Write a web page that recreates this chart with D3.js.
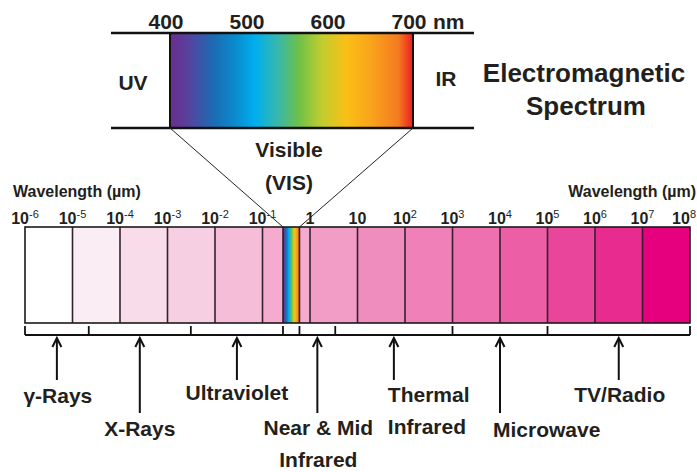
<!DOCTYPE html>
<html>
<head>
<meta charset="utf-8">
<script src="https://cdn.jsdelivr.net/npm/d3@7"></script>
<style>
  body { margin: 0; background: #fff; }
  text { font-family: "Liberation Sans", Arial, sans-serif; font-weight: bold; fill: #231f20; }
</style>
</head>
<body>
<script>
// ---- data ----
var exponents = [-6, -5, -4, -3, -2, -1, 0, 1, 2, 3, 4, 5, 6, 7, 8];   // decade ticks (µm)
var cellColors = ["#ffffff", "#fbedf4", "#f9dcea", "#f7cfe2", "#f5bdd7", "#f4abcd", "#f29dc6",
                  "#f08dbf", "#ef80b8", "#ee70ae", "#ec5fa6", "#e9459b", "#e72b8f", "#e6007e"];
var visibleBand = [0.27, 0.6];                                   // µm, as drawn (schematic)
var regionEdges = [1e-6, 2.2e-5, 3.1e-3, 0.27, 0.6, 3.4, 1e3, 1e5, 1e8];
var regionNames = ["γ-Rays", "X-Rays", "Ultraviolet", "", "Near & Mid|Infrared",
                   "Thermal|Infrared", "Microwave", "TV/Radio"];
var nmTicks = [400, 500, 600, 700];
var spectrumNm = [400, 420, 455, 478, 505, 535, 558, 588, 618, 648, 682, 700];
var spectrumCol = ["#6a2d8f", "#5a3f9b", "#1a6db4", "#0b88ca", "#00aeef", "#3cb8a6", "#6cc04a",
                   "#c2cd2e", "#fbbf16", "#f9a41b", "#f47b20", "#ed1c24"];

// ---- layout ----
var W = 697, H = 472;
var barTop = 227, barBottom = 323;
var boxTop = 33, boxBottom = 128;
var bracketY = 335;

var svg = d3.select("body").append("svg")
    .attr("width", W)
    .attr("height", H);

var defs = svg.append("defs");

function addGradient(id, firstColor) {
  var g = defs.append("linearGradient").attr("id", id)
      .attr("x1", "0%").attr("x2", "100%").attr("y1", "0%").attr("y2", "0%");
  spectrumNm.forEach(function(nm, i) {
    g.append("stop")
      .attr("offset", ((nm - 400) / 300 * 100) + "%")
      .attr("stop-color", (i == 0 && firstColor) ? firstColor : spectrumCol[i]);
  });
}
addGradient("spec");
addGradient("specSmall", "#2b2468");

// log scale for the main bar
var x = d3.scaleLog().domain([1e-6, 1e8]).range([25, 690]);
// linear scale for the visible inset
var xn = d3.scaleLinear().domain([400, 700]).range([170, 413]);

// ---- main bar cells ----
var cells = d3.range(exponents.length - 1).map(function(i) {
  return { a: Math.pow(10, exponents[i]), b: Math.pow(10, exponents[i + 1]), c: cellColors[i] };
});

svg.selectAll(".cell")
  .data(cells)
  .enter().append("rect")
    .attr("class", "cell")
    .attr("x", function(d) { return x(d.a); })
    .attr("y", barTop)
    .attr("width", function(d) { return x(d.b) - x(d.a); })
    .attr("height", barBottom - barTop)
    .style("fill", function(d) { return d.c; });

// visible band
svg.append("rect")
    .attr("x", x(visibleBand[0]))
    .attr("y", barTop)
    .attr("width", x(visibleBand[1]) - x(visibleBand[0]))
    .attr("height", barBottom - barTop)
    .style("fill", "url(#specSmall)");

// dividers
var dividerVals = exponents.slice(1, -1).map(function(e) { return Math.pow(10, e); }).concat(visibleBand);
svg.selectAll(".div")
  .data(dividerVals)
  .enter().append("line")
    .attr("class", "div")
    .attr("x1", function(d) { return x(d); })
    .attr("x2", function(d) { return x(d); })
    .attr("y1", barTop)
    .attr("y2", barBottom)
    .style("stroke", "#33222e")
    .style("stroke-width", 1.6);

svg.append("rect")
    .attr("x", x(1e-6))
    .attr("y", barTop)
    .attr("width", x(1e8) - x(1e-6))
    .attr("height", barBottom - barTop)
    .style("fill", "none")
    .style("stroke", "#1a1a1a")
    .style("stroke-width", 1.6);

// decade tick labels 10^n (last one kept inside the frame)
var lastExp = exponents[exponents.length - 1];
var tl = svg.selectAll(".tl")
  .data(exponents)
  .enter().append("text")
    .attr("class", "tl")
    .attr("x", function(d) { return d == lastExp ? W - 1 : x(Math.pow(10, d)); })
    .attr("y", 224)
    .attr("text-anchor", function(d) { return d == lastExp ? "end" : "middle"; })
    .style("font-size", "16px");
tl.each(function(d) {
  var t = d3.select(this);
  if (d == 0) { t.text("1"); return; }
  if (d == 1) { t.text("10"); return; }
  t.append("tspan").text("10");
  t.append("tspan").attr("dy", -6).style("font-size", "11px").style("font-weight", "normal").text(d);
});

svg.append("text").attr("x", 13).attr("y", 197).style("font-size", "16px").text("Wavelength (µm)");
svg.append("text").attr("x", W - 1).attr("y", 197).attr("text-anchor", "end")
    .style("font-size", "16px").text("Wavelength (µm)");

// ---- visible inset ----
svg.append("rect")
    .attr("x", xn(400))
    .attr("y", boxTop)
    .attr("width", xn(700) - xn(400))
    .attr("height", boxBottom - boxTop)
    .style("fill", "url(#spec)");

[xn(400), xn(700)].forEach(function(v) {
  svg.append("line").attr("x1", v).attr("x2", v).attr("y1", boxTop).attr("y2", boxBottom)
    .style("stroke", "#111").style("stroke-width", 2);
});
[boxTop, boxBottom].forEach(function(v) {
  svg.append("line").attr("x1", 111).attr("x2", 474).attr("y1", v).attr("y2", v)
    .style("stroke", "#111").style("stroke-width", 2.5);
});

svg.selectAll(".nm")
  .data(nmTicks)
  .enter().append("text")
    .attr("class", "nm")
    .attr("x", function(d) { return xn(d) - 4; })
    .attr("y", 29)
    .attr("text-anchor", "middle")
    .style("font-size", "21px")
    .text(function(d) { return d; });
svg.append("text").attr("x", xn(700) + 20).attr("y", 29).style("font-size", "21px").text("nm");

svg.append("text").attr("x", 133).attr("y", 90).attr("text-anchor", "middle").style("font-size", "21px").text("UV");
svg.append("text").attr("x", 446).attr("y", 86).attr("text-anchor", "middle").style("font-size", "21px").text("IR");

// funnel lines to the visible band
svg.append("line").attr("x1", xn(400)).attr("y1", boxBottom).attr("x2", x(visibleBand[0])).attr("y2", barTop)
    .style("stroke", "#222").style("stroke-width", 1);
svg.append("line").attr("x1", xn(700)).attr("y1", boxBottom).attr("x2", x(visibleBand[1])).attr("y2", barTop)
    .style("stroke", "#222").style("stroke-width", 1);

svg.append("text").attr("x", 289).attr("y", 157).attr("text-anchor", "middle").style("font-size", "21px").text("Visible");
svg.append("text").attr("x", 289).attr("y", 190).attr("text-anchor", "middle").style("font-size", "21px").text("(VIS)");

// title
svg.append("text").attr("x", 584).attr("y", 82).attr("text-anchor", "middle").style("font-size", "26px").text("Electromagnetic");
svg.append("text").attr("x", 586).attr("y", 115).attr("text-anchor", "middle").style("font-size", "26px").text("Spectrum");

// ---- region brackets ----
svg.append("line").attr("x1", x(regionEdges[0])).attr("x2", x(regionEdges[regionEdges.length - 1]))
    .attr("y1", bracketY).attr("y2", bracketY).style("stroke", "#111").style("stroke-width", 1.8);
svg.selectAll(".rt")
  .data(regionEdges)
  .enter().append("line")
    .attr("class", "rt")
    .attr("x1", function(d) { return x(d); })
    .attr("x2", function(d) { return x(d); })
    .attr("y1", bracketY - 9)
    .attr("y2", bracketY)
    .style("stroke", "#111").style("stroke-width", 1.8);

var regions = regionNames.map(function(n, i) {
  return { name: n, mid: Math.sqrt(regionEdges[i] * regionEdges[i + 1]), i: i };
}).filter(function(d) { return d.name != ""; });

// arrow length and label placement per region (layout only)
var longArrow = { "X-Rays": 1, "Near & Mid|Infrared": 1, "Microwave": 1 };
var labelStyle = {
  "γ-Rays":             { dx: 1,  y: 403, anchor: "middle" },
  "X-Rays":             { dx: 0,  y: 436, anchor: "middle" },
  "Ultraviolet":        { dx: 0,  y: 400, anchor: "middle" },
  "Near & Mid|Infrared":{ dx: 1,  y: 435, anchor: "middle" },
  "Thermal|Infrared":   { dx: -6, y: 402, anchor: "start" },
  "Microwave":          { dx: -7, y: 437, anchor: "start" },
  "TV/Radio":           { dx: 1,  y: 402, anchor: "middle" }
};

var rg = svg.selectAll(".region")
  .data(regions)
  .enter().append("g")
    .attr("class", "region");

rg.append("line")
    .attr("x1", function(d) { return x(d.mid); })
    .attr("x2", function(d) { return x(d.mid); })
    .attr("y1", bracketY + 4)
    .attr("y2", function(d) { return longArrow[d.name] ? 413 : 380; })
    .style("stroke", "#111").style("stroke-width", 2);

rg.append("path")
    .attr("d", function(d) {
      var cx = x(d.mid), t = bracketY + 3;
      return "M" + (cx - 4.5) + "," + (t + 9) + "L" + cx + "," + t + "L" + (cx + 4.5) + "," + (t + 9);
    })
    .style("fill", "none").style("stroke", "#111").style("stroke-width", 2);

rg.append("text")
    .attr("x", function(d) { return x(d.mid) + labelStyle[d.name].dx; })
    .attr("y", function(d) { return labelStyle[d.name].y; })
    .attr("text-anchor", function(d) { return labelStyle[d.name].anchor; })
    .style("font-size", "21px")
    .each(function(d) {
      var t = d3.select(this), parts = d.name.split("|"), st = labelStyle[d.name];
      parts.forEach(function(p, j) {
        t.append("tspan")
          .attr("x", x(d.mid) + st.dx)
          .attr("dy", j == 0 ? 0 : 32)
          .text(p);
      });
    });
</script>
</body>
</html>
